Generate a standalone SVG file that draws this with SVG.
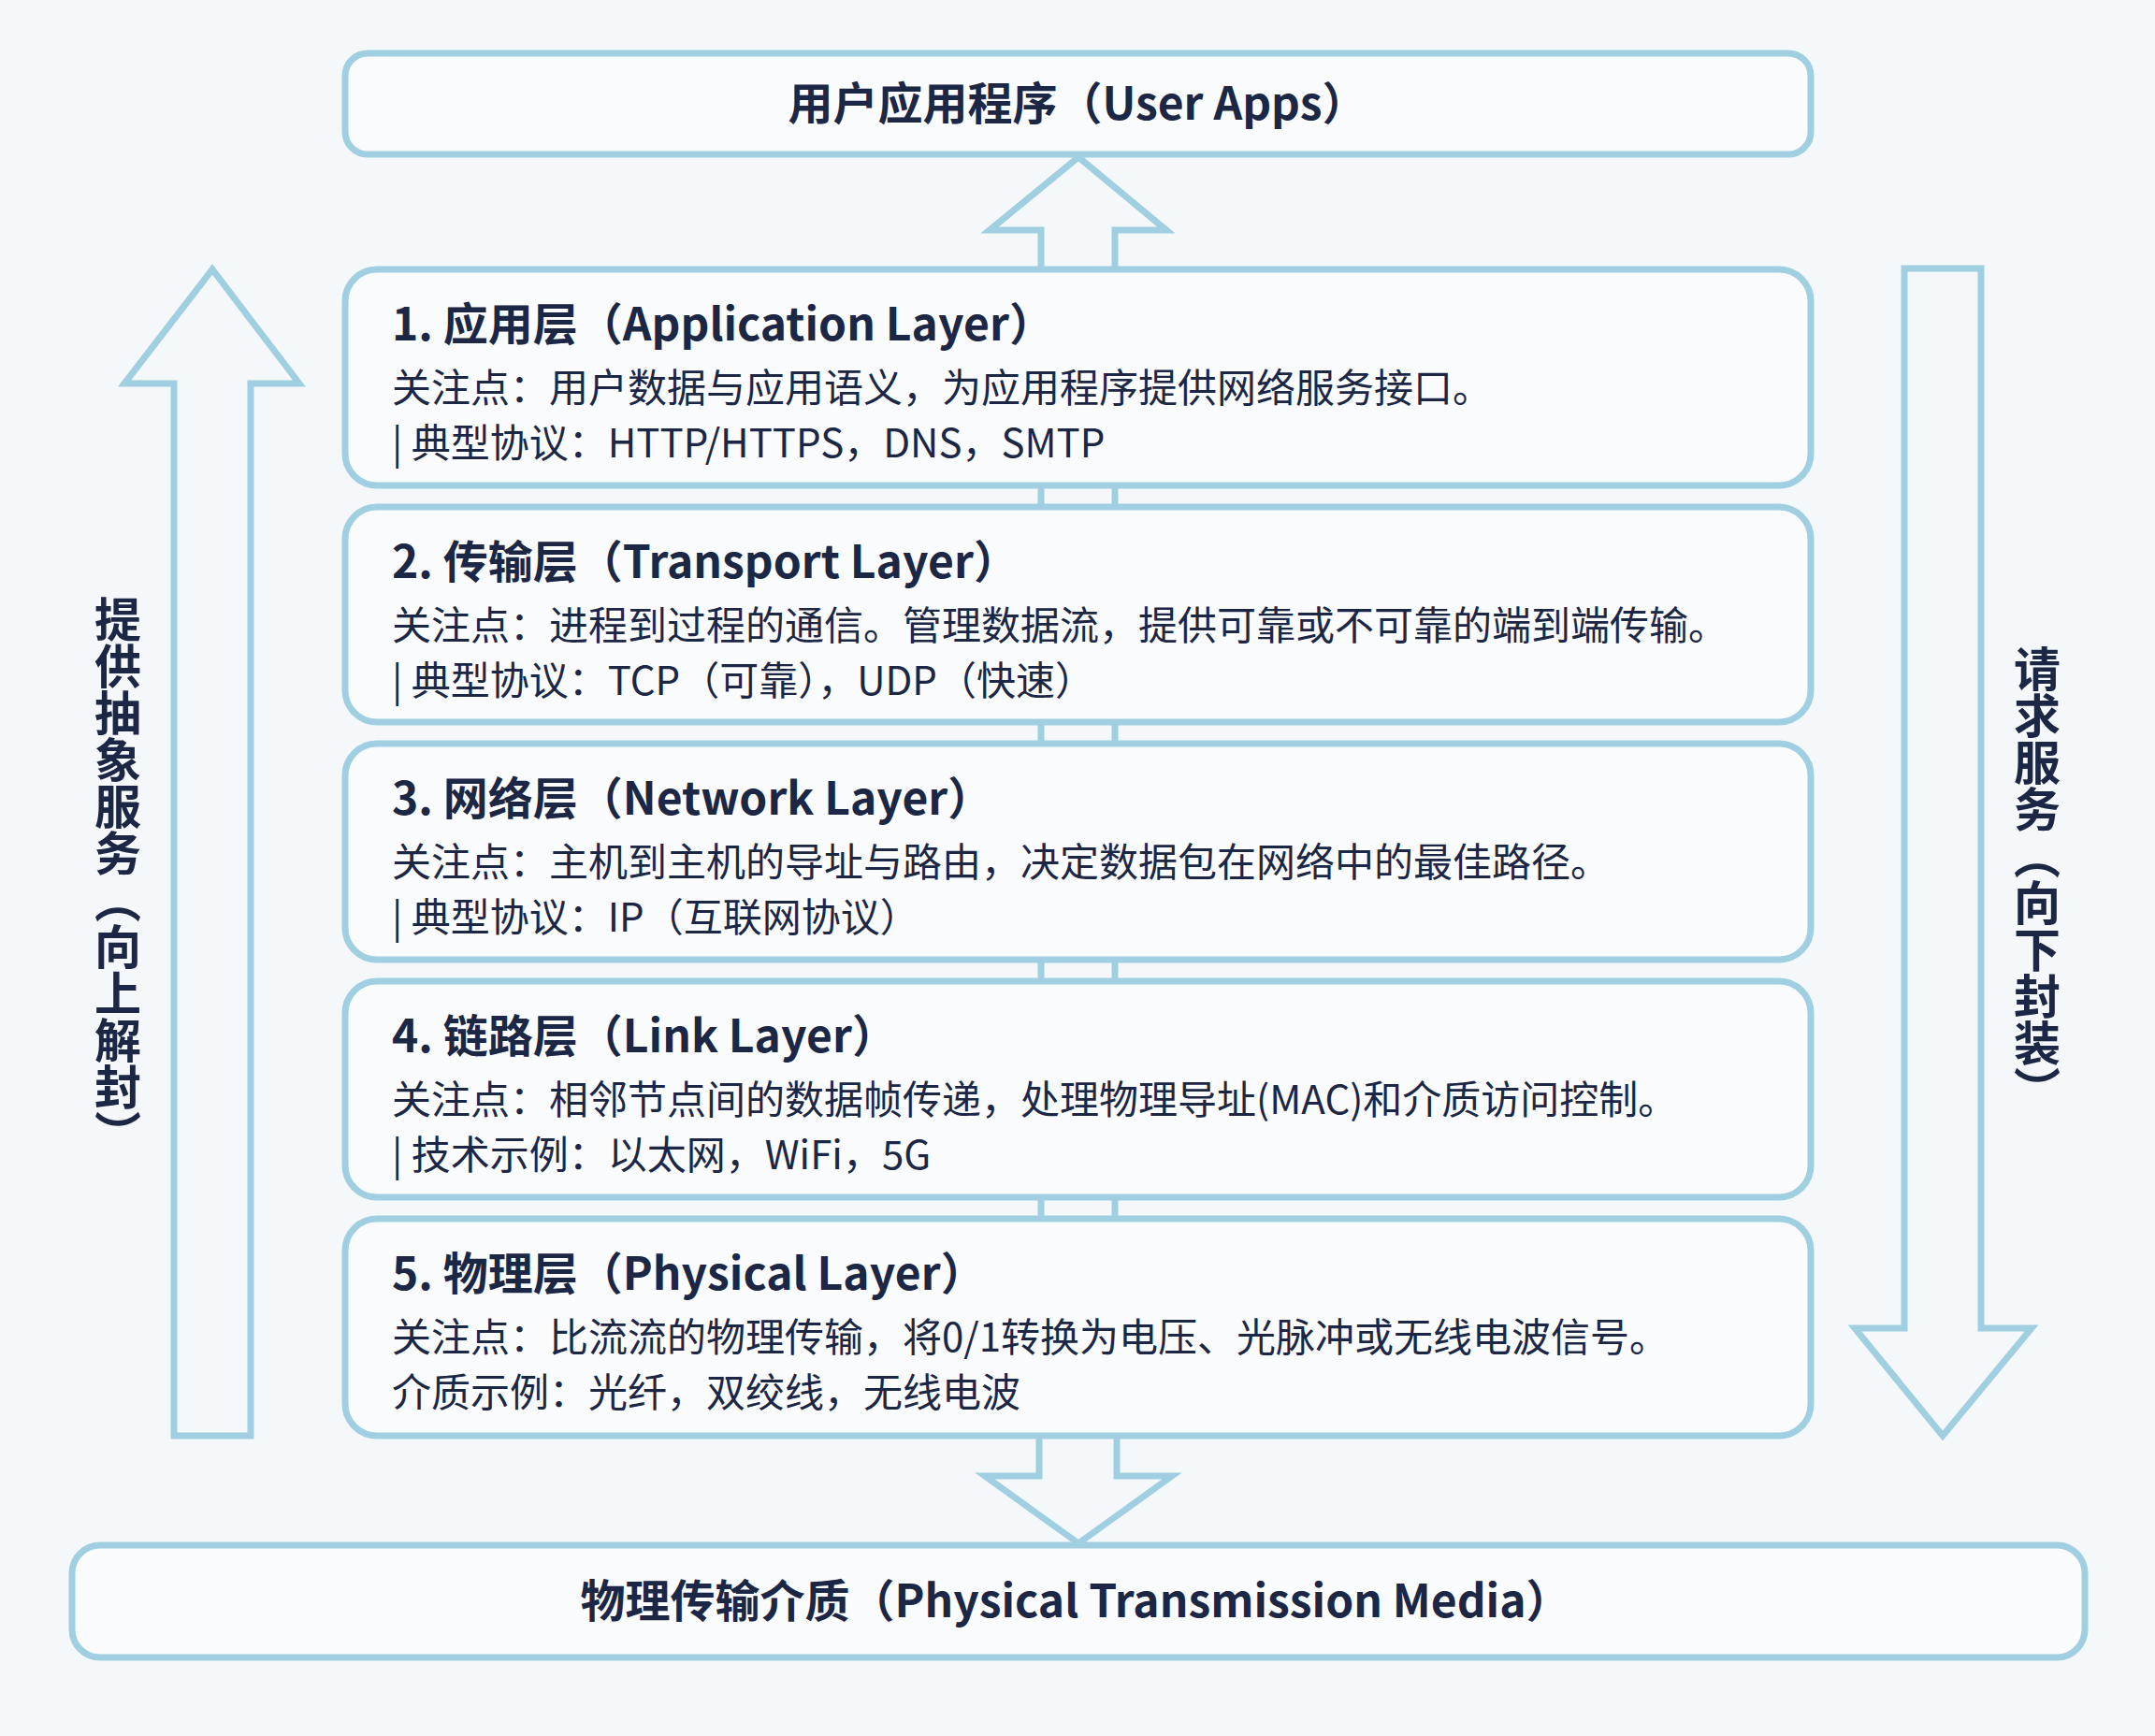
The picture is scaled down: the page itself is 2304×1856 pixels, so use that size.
<svg xmlns="http://www.w3.org/2000/svg" width="2304" height="1856" viewBox="0 0 2304 1856">
<style>
.ln{fill:none;stroke:#9fcfe1;stroke-width:7;stroke-linejoin:miter}
.box{fill:#f9fbfd;stroke:#9fcfe1;stroke-width:7}
.t{font-family:"Noto Sans CJK SC","Noto Sans",sans-serif;fill:#1b2744}
.h{font-size:48px;font-weight:700}
.b{font-size:42px;font-weight:400}
.v{font-size:50px;font-weight:700;writing-mode:vertical-rl}
</style>
<rect width="2304" height="1856" fill="#f4f8fa"/>
<g id="connectors">
  <polyline class="ln" points="1113,288 1113,246 1058,246 1153,168 1247,246 1192,246 1192,288"/>
  <line class="ln" x1="1113" y1="288" x2="1113" y2="1535"/>
  <line class="ln" x1="1192" y1="288" x2="1192" y2="1535"/>
  <polyline class="ln" points="1111,1535 1111,1578 1053,1578 1153,1650 1253,1578 1194,1578 1194,1535"/>
  <polygon class="ln" points="186,1535 186,410 133,410 227,288 320,410 268,410 268,1535"/>
  <polygon class="ln" points="2036,287 2118,287 2118,1420 2172,1420 2077,1535 1983,1420 2036,1420"/>
</g>
<g id="user-apps">
  <rect class="box" x="369" y="57" width="1567" height="108" rx="24"/>
  <text class="t h" x="1152" y="128" text-anchor="middle">用户应用程序（User Apps）</text>
</g>
<g id="layer1">
  <rect class="box" x="369" y="288" width="1567" height="231" rx="34"/>
  <text class="t h" x="419" y="364">1. 应用层（Application Layer）</text>
  <text class="t b" x="419" y="430">关注点：用户数据与应用语义，为应用程序提供网络服务接口。</text>
  <text class="t b" x="419" y="489">| 典型协议：HTTP/HTTPS，DNS，SMTP</text>
</g>
<g id="layer2">
  <rect class="box" x="369" y="542" width="1567" height="230" rx="34"/>
  <text class="t h" x="419" y="618">2. 传输层（Transport Layer）</text>
  <text class="t b" x="419" y="684">关注点：进程到过程的通信。管理数据流，提供可靠或不可靠的端到端传输。</text>
  <text class="t b" x="419" y="743">| 典型协议：TCP（可靠），UDP（快速）</text>
</g>
<g id="layer3">
  <rect class="box" x="369" y="795" width="1567" height="231" rx="34"/>
  <text class="t h" x="419" y="871">3. 网络层（Network Layer）</text>
  <text class="t b" x="419" y="937">关注点：主机到主机的导址与路由，决定数据包在网络中的最佳路径。</text>
  <text class="t b" x="419" y="996">| 典型协议：IP（互联网协议）</text>
</g>
<g id="layer4">
  <rect class="box" x="369" y="1049" width="1567" height="231" rx="34"/>
  <text class="t h" x="419" y="1125">4. 链路层（Link Layer）</text>
  <text class="t b" x="419" y="1191">关注点：相邻节点间的数据帧传递，处理物理导址(MAC)和介质访问控制。</text>
  <text class="t b" x="419" y="1250">| 技术示例：以太网，WiFi，5G</text>
</g>
<g id="layer5">
  <rect class="box" x="369" y="1303" width="1567" height="232" rx="34"/>
  <text class="t h" x="419" y="1379">5. 物理层（Physical Layer）</text>
  <text class="t b" x="419" y="1445">关注点：比流流的物理传输，将0/1转换为电压、光脉冲或无线电波信号。</text>
  <text class="t b" x="419" y="1504">介质示例：光纤，双绞线，无线电波</text>
</g>
<g id="media">
  <rect class="box" x="77" y="1652" width="2152" height="120" rx="30"/>
  <text class="t h" x="1150" y="1729" text-anchor="middle">物理传输介质（Physical Transmission Media）</text>
</g>
<g id="label-up">
  <text class="t v" x="126" y="637">提供抽象服务（向上解封）</text>
</g>
<g id="label-down">
  <text class="t v" x="2178" y="690">请求服务（向下封装）</text>
</g>
</svg>
